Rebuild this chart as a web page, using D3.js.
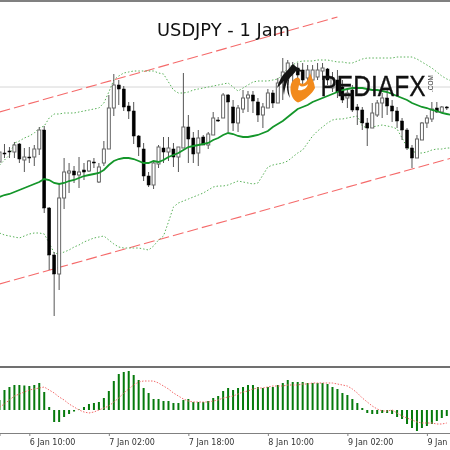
<!DOCTYPE html>
<html><head><meta charset="utf-8">
<script src="https://cdn.jsdelivr.net/npm/d3@7/dist/d3.min.js"></script>
<style>html,body{margin:0;padding:0;background:#fff;overflow:hidden}svg{display:block;filter:blur(0.3px)}</style>
</head><body><svg id="c" width="450" height="450"></svg>
<script>
const title="USDJPY - 1 Jam";
const tickIndex=[0,16,32,48,64,80];
const tickLabels=["6 Jan 10:00","7 Jan 02:00","7 Jan 18:00","8 Jan 10:00","9 Jan 02:00","9 Jan 18:00"];
const firstIndex=-6;
const open=[108.38,108.47,108.49,108.48,108.56,108.40,108.43,108.43,108.51,108.70,107.92,107.45,107.26,108.02,108.27,108.29,108.25,108.30,108.29,108.38,108.18,108.37,108.51,108.92,109.15,109.11,108.94,108.89,108.64,108.51,108.24,108.15,108.36,108.52,108.48,108.51,108.43,108.52,108.73,108.62,108.47,108.63,108.55,108.65,108.80,108.82,109.05,108.93,108.77,108.91,109.02,109.05,108.98,108.85,108.92,109.07,108.97,109.18,109.28,109.28,109.32,109.30,109.22,109.20,109.23,109.29,109.31,109.12,109.20,109.13,109.02,109.10,108.93,108.90,108.77,108.72,108.85,108.97,109.02,108.94,108.89,108.79,108.70,108.52,108.42,108.60,108.77,108.81,108.92,108.88,108.93];
const high=[108.50,108.56,108.53,108.58,108.57,108.52,108.53,108.55,108.73,108.74,107.93,107.48,108.17,108.42,108.37,108.34,108.43,108.37,108.40,108.42,108.37,108.59,109.05,109.26,109.20,109.14,108.98,108.98,108.65,108.57,108.28,108.39,108.55,108.63,108.63,108.57,108.53,109.27,108.85,108.68,108.70,108.65,108.68,108.88,108.83,109.07,109.06,109.00,108.95,109.10,109.09,109.09,109.02,108.97,109.11,109.10,109.22,109.42,109.40,109.38,109.37,109.37,109.35,109.35,109.37,109.37,109.32,109.28,109.30,109.20,109.12,109.15,108.96,108.93,108.82,108.97,109.00,109.07,109.10,109.00,108.93,108.82,108.72,108.55,108.65,108.78,108.85,108.98,108.98,108.94,108.94];
const low=[108.37,108.42,108.42,108.42,108.37,108.28,108.37,108.34,108.45,107.87,107.30,106.84,107.10,107.91,108.07,108.17,108.12,108.20,108.28,108.32,108.17,108.34,108.51,108.84,108.95,108.89,108.81,108.56,108.44,108.19,108.13,108.11,108.32,108.37,108.39,108.33,108.28,108.52,108.37,108.37,108.34,108.55,108.51,108.65,108.78,108.82,108.68,108.69,108.68,108.87,108.88,108.87,108.78,108.72,108.92,108.92,108.97,109.00,109.15,109.18,109.15,109.15,109.15,109.15,109.20,109.20,109.15,109.08,109.02,108.97,108.92,108.88,108.75,108.70,108.54,108.72,108.83,108.82,108.85,108.78,108.72,108.60,108.50,108.32,108.42,108.60,108.72,108.78,108.87,108.87,108.90];
const close=[108.48,108.46,108.48,108.55,108.41,108.43,108.42,108.51,108.70,107.92,107.45,107.26,108.02,108.28,108.29,108.25,108.28,108.28,108.39,108.37,108.33,108.51,108.92,109.15,109.11,108.93,108.89,108.64,108.53,108.24,108.15,108.37,108.53,108.48,108.52,108.43,108.53,108.73,108.61,108.46,108.62,108.55,108.66,108.82,108.79,109.05,108.98,108.77,108.92,109.02,109.05,108.99,108.85,108.93,109.07,108.97,109.17,109.28,109.37,109.34,109.25,109.20,109.30,109.30,109.30,109.32,109.20,109.22,109.08,109.00,109.07,108.90,108.90,108.77,108.72,108.87,108.97,109.02,108.94,108.89,108.79,108.70,108.52,108.42,108.61,108.77,108.82,108.91,108.88,108.93,108.92];
const bandMid=[108.03,108.05,108.06,108.08,108.10,108.12,108.14,108.16,108.18,108.21,108.20,108.17,108.16,108.17,108.19,108.20,108.22,108.24,108.25,108.26,108.27,108.30,108.35,108.39,108.41,108.42,108.42,108.41,108.39,108.37,108.37,108.39,108.38,108.40,108.43,108.45,108.47,108.50,108.53,108.54,108.55,108.56,108.57,108.60,108.62,108.65,108.67,108.66,108.64,108.63,108.63,108.64,108.65,108.67,108.69,108.73,108.76,108.79,108.83,108.87,108.91,108.93,108.95,108.98,109.00,109.02,109.04,109.06,109.08,109.10,109.11,109.12,109.12,109.12,109.11,109.10,109.10,109.09,109.08,109.06,109.04,109.02,109.00,108.97,108.95,108.93,108.92,108.90,108.89,108.87,108.86,108.85];
const bandUpper=[108.35,108.40,108.45,108.57,108.59,108.62,108.64,108.67,108.72,108.74,108.82,108.86,108.86,108.87,108.87,108.87,108.88,108.89,108.90,108.91,108.92,108.97,109.08,109.20,109.24,109.27,109.28,109.29,109.29,109.29,109.29,109.29,109.27,109.26,109.18,109.10,109.07,109.07,109.08,109.10,109.11,109.12,109.13,109.14,109.15,109.16,109.17,109.13,109.09,109.12,109.15,109.18,109.19,109.19,109.19,109.20,109.21,109.26,109.32,109.35,109.38,109.39,109.39,109.39,109.40,109.40,109.40,109.39,109.38,109.38,109.37,109.37,109.39,109.41,109.42,109.42,109.42,109.42,109.42,109.42,109.43,109.43,109.43,109.43,109.41,109.38,109.35,109.32,109.28,109.24,109.21,109.19];
const bandLower=[107.67,107.65,107.64,107.63,107.62,107.64,107.66,107.67,107.67,107.66,107.57,107.47,107.46,107.48,107.50,107.53,107.55,107.58,107.60,107.62,107.63,107.64,107.60,107.56,107.53,107.52,107.52,107.52,107.52,107.51,107.50,107.54,107.60,107.64,107.78,107.93,107.97,107.99,108.01,108.03,108.05,108.07,108.10,108.13,108.14,108.14,108.15,108.17,108.19,108.18,108.17,108.16,108.17,108.25,108.33,108.35,108.36,108.37,108.39,108.43,108.47,108.50,108.57,108.64,108.69,108.73,108.77,108.80,108.81,108.81,108.82,108.83,108.84,108.74,108.72,108.73,108.74,108.75,108.74,108.73,108.71,108.62,108.53,108.49,108.47,108.47,108.48,108.50,108.51,108.51,108.52,108.52];
const macd=[10,20,23,25,25,24.5,24,25,27,18,3,-12,-12,-7,-4,-1.5,0.5,3,6,7,8,12,19,29,36,38,39,35,30,22,17,11,11,9,9,7,7,10,11,8,8,8,9,12,14,19,22,20,22,23,25,25,23,22,23,23,25,27,30,28,28,28,27,27,27,27,26,23,21,17,15,11,7,2,-3,-4,-4,-3,-3,-4,-7,-9,-14,-18,-21,-18,-16,-14,-11,-8,-6];
const signal=[3,6,10,14,16,18,20,21,22,23,20,17,13,10,6,3,0,-2,-3,-2,0,2,4,8,12,17,21,25,28,29,29,29,27,24,21,17,14,11,9,8,8,8,8,9,10,12,13,14,16,18,19,21,22,22,23,24,24,24,25,25,25,26,26,27,27,27,27,27,26,25,24,21,17,12,8,4,1,-1,-1,0,-3,-6,-8,-10,-12,-13,-13,-13,-14,-14,-13];
const channelUpper=[[-6,108.88],[62,109.83]];
const channelLower=[[-6,107.16],[85,108.42]];
const levelPrice=109.13;

const W=450;
const x=d3.scaleLinear().domain([-6,85]).range([-0.5,451.75]);
const y=d3.scaleLinear().domain([110,105.5]).range([0,450]);
const yM=d3.scaleLinear().domain([42,-23]).range([368,433]);
const svg=d3.select("#c");
const idx=(k)=>k+firstIndex;

// frame
svg.append("rect").attr("x",0).attr("y",0).attr("width",W).attr("height",2).attr("fill","#808080");
svg.append("rect").attr("x",0).attr("y",366).attr("width",W).attr("height",2).attr("fill","#707070");
svg.append("line").attr("x1",0).attr("x2",W).attr("y1",y(levelPrice)).attr("y2",y(levelPrice)).attr("stroke","#d6d6d6");

// channel
[channelUpper,channelLower].forEach(c=>{
  svg.append("line").attr("x1",x(c[0][0])).attr("y1",y(c[0][1])).attr("x2",x(c[1][0])).attr("y2",y(c[1][1]))
    .attr("stroke","#f56a6a").attr("stroke-width",1.1).attr("stroke-dasharray","11 4");
});

// bands
const ln=d3.line().x((d,i)=>x(idx(i))).y(d=>y(d));
[bandUpper,bandLower].forEach(b=>svg.append("path").attr("d",ln(b)).attr("fill","none")
  .attr("stroke","#58b058").attr("stroke-width",1).attr("stroke-dasharray","1.5 2"));

// candles
const g=svg.append("g");
const cs=g.selectAll("g").data(open.map((o,i)=>({o,h:high[i],l:low[i],c:close[i],i:idx(i)}))).join("g");
cs.append("line").attr("x1",d=>x(d.i)).attr("x2",d=>x(d.i)).attr("y1",d=>y(d.h)).attr("y2",d=>y(d.l))
  .attr("stroke","#555").attr("stroke-width",1);
cs.append("rect").attr("x",d=>x(d.i)-1.5).attr("width",3)
  .attr("y",d=>y(Math.max(d.o,d.c))).attr("height",d=>Math.max(1,Math.abs(y(d.o)-y(d.c))))
  .attr("fill",d=>d.c>d.o?"#fff":"#000").attr("stroke",d=>d.c>d.o?"#666":"#000").attr("stroke-width",d=>d.c>d.o?1:0.5);

// mid band
svg.append("path").attr("d",ln(bandMid)).attr("fill","none").attr("stroke","#14962a").attr("stroke-width",1.8);

// title
svg.append("text").attr("x",157).attr("y",36).attr("textLength",133).attr("lengthAdjust","spacingAndGlyphs")
  .attr("font-family","'DejaVu Sans'").attr("font-size",17).attr("fill","#111").text(title);

// logo
const logo=svg.append("g");
logo.append("path").attr("fill","#f28a1c")
  .attr("d","M290.5 90C290 82 294 78 298 77.5C300 78 300.5 80 300 83C303 85 307 84 310 73C312 78 314.5 83 315 88C312 94 305 100 298 102.5C294 101 291 96 290.5 90Z");
logo.append("path").attr("fill","#fff").attr("d","M299 85C302 88 306 86 308 84C307 89 302 91 298 90Z");
logo.append("path").attr("fill","#151515")
  .attr("d","M283 75C287 71 290 67 293 64C295 66 299 69 304 72L296 71C294 74 291 76 288 80C286 84 285 88 284 95C283 90 282.5 85 284 81C282 83 280 85 277 88C278 84 280 79 283 75Z");
logo.append("path").attr("fill","#151515").attr("d","M290 76C288 82 288 90 290 98C286 92 286 82 290 76Z");
logo.append("text").attr("x",320.5).attr("y",95.5).attr("textLength",105).attr("lengthAdjust","spacingAndGlyphs")
  .attr("font-family","'Liberation Sans'").attr("font-size",29).attr("fill","#111").attr("stroke","#111").attr("stroke-width",0.35).text("PEDIAFX");
logo.append("text").attr("transform","translate(433,92) rotate(-90)").attr("font-family","'Liberation Sans'")
  .attr("font-size",6.5).attr("fill","#333").text(".COM");

// MACD panel
svg.append("g").selectAll("rect").data(macd).join("rect")
  .attr("x",(d,i)=>x(idx(i))-1).attr("width",2)
  .attr("y",d=>Math.min(yM(d),yM(0))).attr("height",d=>Math.abs(yM(d)-yM(0)))
  .attr("fill","#067a0c");
svg.append("path").attr("d",d3.line().x((d,i)=>x(idx(i))).y(d=>yM(d))(signal)).attr("fill","none")
  .attr("stroke","#f26a6a").attr("stroke-width",1).attr("stroke-dasharray","1.5 1.5");

// time axis
const axis=svg.append("g").attr("transform","translate(0,433)").call(
  d3.axisBottom(x).tickValues(tickIndex).tickSize(3).tickPadding(3).tickFormat((d,i)=>tickLabels[i]));
axis.select(".domain").attr("stroke","#808080");
axis.selectAll(".tick line").attr("stroke","#808080");
axis.selectAll("text").attr("text-anchor","start").attr("font-family","'DejaVu Sans'").attr("font-size",8).attr("fill","#333").attr("dx",0);
</script></body></html>
